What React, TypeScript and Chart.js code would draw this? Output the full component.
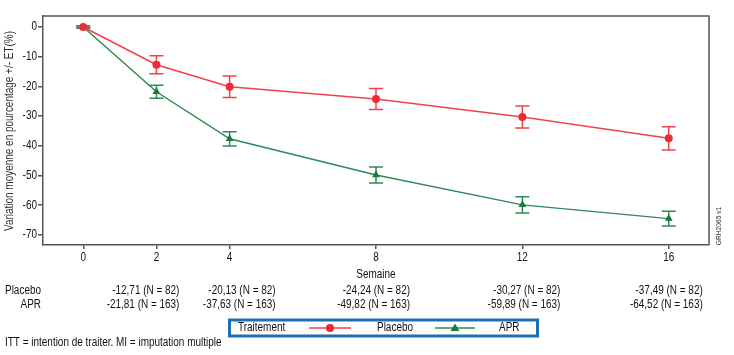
import React, { useEffect, useRef } from "react";
import { Chart, registerables } from "chart.js";

Chart.register(...registerables);

const weeks = [0, 2, 4, 8, 12, 16];
const placeboMean = [0, -12.71, -20.13, -24.24, -30.27, -37.49];
const placeboSE = [0.3, 3.0, 3.6, 3.5, 3.7, 3.9];
const aprMean = [0, -21.81, -37.63, -49.82, -59.89, -64.52];
const aprSE = [0.3, 2.2, 2.4, 2.7, 2.7, 2.5];
const placeboN = [82, 82, 82, 82, 82, 82];
const aprN = [163, 163, 163, 163, 163, 163];
const yTicks = [0, -10, -20, -30, -40, -50, -60, -70];
const seriesNames = ["Placebo", "APR"];

const FONT = "'Liberation Sans', Arial, sans-serif";
const RED = "#ee2a36";
const RED_LINE = "#f0414b";
const GREEN = "#187a3e";
const GREEN_LINE = "#2f8a52";
const AXIS = "#555555";
const SQUEEZE = 0.83;
// layout-only offsets of the table columns (px right of each tick)
const colOffset = [0, 23, 46, 34, 38, 34];

const fmt = (v: number) => v.toFixed(2).replace(".", ",");

function text(ctx: CanvasRenderingContext2D, s: string, x: number, y: number, align: CanvasTextAlign, rot = 0) {
  ctx.save();
  ctx.translate(x, y);
  if (rot) ctx.rotate(rot);
  ctx.scale(SQUEEZE, 1);
  ctx.textAlign = align;
  ctx.textBaseline = "middle";
  ctx.fillText(s, 0, 0);
  ctx.restore();
}

export default function App() {
  const ref = useRef<HTMLCanvasElement | null>(null);
  useEffect(() => {
    const canvas = ref.current!;
    const errorPlugin = {
      id: "errbars",
      beforeDatasetsDraw(chart: any) {
        const ctx = chart.ctx;
        const xs = chart.scales.x;
        const ys = chart.scales.y;
        const sets = [
          { m: placeboMean, s: placeboSE, c: RED_LINE },
          { m: aprMean, s: aprSE, c: GREEN_LINE },
        ];
        ctx.save();
        ctx.lineWidth = 1.5;
        sets.forEach((st) => {
          ctx.strokeStyle = st.c;
          weeks.forEach((w, i) => {
            const x = xs.getPixelForValue(w);
            const yt = ys.getPixelForValue(st.m[i] + st.s[i]);
            const yb = ys.getPixelForValue(st.m[i] - st.s[i]);
            ctx.beginPath();
            ctx.moveTo(x, yt);
            ctx.lineTo(x, yb);
            ctx.moveTo(x - 7, yt);
            ctx.lineTo(x + 7, yt);
            ctx.moveTo(x - 7, yb);
            ctx.lineTo(x + 7, yb);
            ctx.stroke();
          });
        });
        ctx.restore();
      },
      afterDraw(chart: any) {
        const ctx = chart.ctx;
        const ca = chart.chartArea;
        const xs = chart.scales.x;
        const ys = chart.scales.y;
        ctx.save();
        // frame
        ctx.strokeStyle = AXIS;
        ctx.lineWidth = 1.5;
        ctx.beginPath();
        ctx.moveTo(ca.left, ca.top);
        ctx.lineTo(ca.right, ca.top);
        ctx.lineTo(ca.right, ca.bottom);
        ctx.stroke();
        ctx.font = `12px ${FONT}`;
        // tick labels
        ctx.fillStyle = "#111";
        ys.ticks.forEach((t: any) => {
          text(ctx, String(t.value), 37, ys.getPixelForValue(t.value), "right");
        });
        xs.ticks.forEach((t: any) => {
          text(ctx, String(t.value), xs.getPixelForValue(t.value), 258, "center");
        });
        // y title
        ctx.fillStyle = "#333";
        text(ctx, "Variation moyenne en pourcentage +/- ET(%)", 10, 131, "center", -Math.PI / 2);
        // x title
        ctx.fillStyle = "#111";
        text(ctx, "Semaine", (ca.left + ca.right) / 2, 275, "center");
        // table
        text(ctx, seriesNames[0], 41, 291, "right");
        text(ctx, seriesNames[1], 41, 305, "right");
        weeks.forEach((w, i) => {
          if (i === 0) return;
          const x = xs.getPixelForValue(w) + colOffset[i];
          text(ctx, `${fmt(placeboMean[i])} (N = ${placeboN[i]})`, x, 291, "right");
          text(ctx, `${fmt(aprMean[i])} (N = ${aprN[i]})`, x, 305, "right");
        });
        // legend
        ctx.strokeStyle = "#1a6fb5";
        ctx.lineWidth = 3;
        ctx.strokeRect(229.5, 320, 308, 16);
        ctx.fillStyle = "#111";
        text(ctx, "Traitement", 238, 328, "left");
        text(ctx, seriesNames[0], 377, 328, "left");
        text(ctx, seriesNames[1], 499, 328, "left");
        ctx.lineWidth = 1.5;
        ctx.strokeStyle = RED_LINE;
        ctx.beginPath();
        ctx.moveTo(309, 328);
        ctx.lineTo(351, 328);
        ctx.stroke();
        ctx.fillStyle = RED;
        ctx.beginPath();
        ctx.arc(330, 328, 4, 0, Math.PI * 2);
        ctx.fill();
        ctx.strokeStyle = GREEN_LINE;
        ctx.beginPath();
        ctx.moveTo(435, 328);
        ctx.lineTo(475, 328);
        ctx.stroke();
        ctx.fillStyle = GREEN;
        ctx.beginPath();
        ctx.moveTo(455, 323.5);
        ctx.lineTo(459.5, 331);
        ctx.lineTo(450.5, 331);
        ctx.closePath();
        ctx.fill();
        // footnote
        ctx.fillStyle = "#111";
        text(ctx, "ITT = intention de traiter. MI = imputation multiple", 5, 343, "left");
        // side code
        ctx.font = `8px ${FONT}`;
        ctx.fillStyle = "#333";
        text(ctx, "GRH2065 v1", 719, 226, "center", -Math.PI / 2);
        ctx.restore();
      },
    };

    const chart = new Chart(canvas, {
      type: "scatter",
      data: {
        datasets: [
          {
            label: seriesNames[0],
            data: weeks.map((w, i) => ({ x: w, y: placeboMean[i] })),
            showLine: true,
            borderColor: RED_LINE,
            borderWidth: 1.5,
            pointStyle: "circle",
            pointRadius: 4,
            pointBackgroundColor: RED,
            pointBorderWidth: 0,
          },
          {
            label: seriesNames[1],
            data: weeks.map((w, i) => ({ x: w, y: aprMean[i] })),
            showLine: true,
            borderColor: GREEN_LINE,
            borderWidth: 1.5,
            pointStyle: "triangle",
            pointRadius: 4.5,
            pointBackgroundColor: GREEN,
            pointBorderWidth: 0,
          },
        ],
      },
      options: {
        responsive: false,
        animation: false,
        layout: { padding: { top: 16, right: 25, left: 0, bottom: 0 } },
        plugins: { legend: { display: false }, tooltip: { enabled: false } },
        scales: {
          x: {
            type: "linear",
            min: -1.1,
            max: 17.1,
            afterBuildTicks: (s: any) => {
              s.ticks = weeks.map((v) => ({ value: v }));
            },
            afterFit: (s: any) => {
              s.height = 110;
            },
            ticks: { display: false },
            grid: { display: true, drawOnChartArea: false, drawTicks: true, tickLength: 4, color: AXIS, lineWidth: 1.5 },
            border: { display: true, color: AXIS, width: 1.5 },
          },
          y: {
            type: "linear",
            min: -73.4,
            max: 3.7,
            afterBuildTicks: (s: any) => {
              s.ticks = yTicks.map((v) => ({ value: v }));
            },
            afterFit: (s: any) => {
              s.width = 43;
            },
            ticks: { display: false },
            grid: { display: true, drawOnChartArea: false, drawTicks: true, tickLength: 5, color: AXIS, lineWidth: 1.5 },
            border: { display: true, color: AXIS, width: 1.5 },
          },
        },
      },
      plugins: [errorPlugin],
    });
    return () => chart.destroy();
  }, []);

  return (
    <div style={{ position: "absolute", left: 0, top: 0, width: 734, height: 355, background: "#fff" }}>
      <canvas ref={ref} width={734} height={355} style={{ display: "block" }} />
    </div>
  );
}
